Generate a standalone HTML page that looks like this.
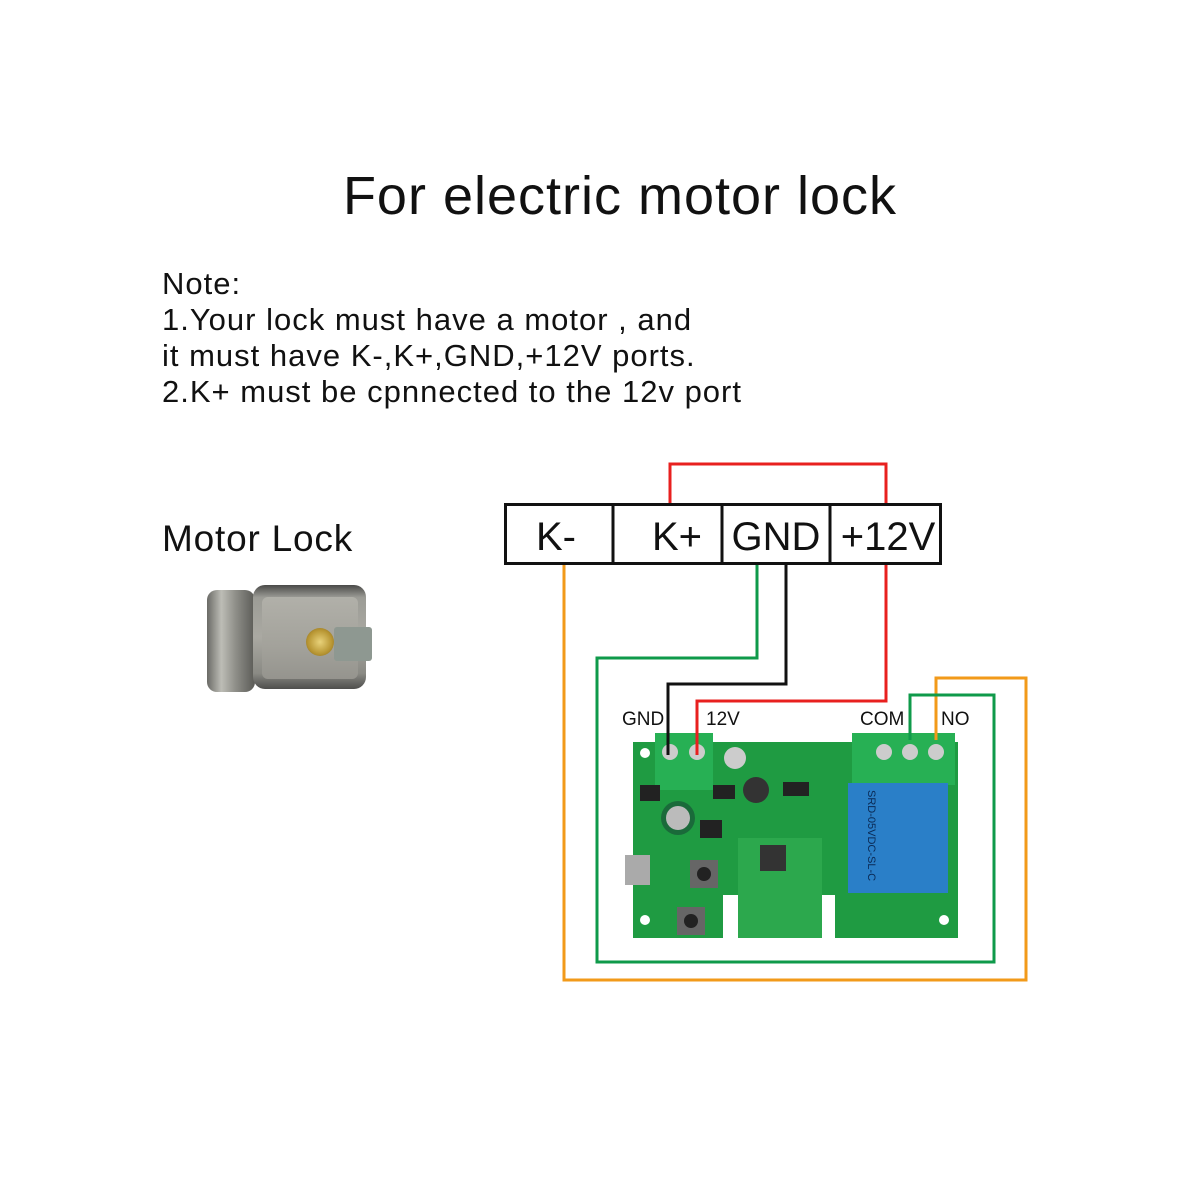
<!DOCTYPE html>
<html><head><meta charset="utf-8"><style>
html,body{margin:0;padding:0;background:#fff;}
body{width:1200px;height:1200px;position:relative;overflow:hidden;font-family:"Liberation Sans","DejaVu Sans",sans-serif;color:#111;}
.abs{position:absolute;}
.title{left:0;width:1240px;top:166px;text-align:center;font-size:54px;line-height:60px;letter-spacing:1px;}
.note{left:162px;top:266px;font-size:31px;line-height:36px;letter-spacing:1px;}
.ml{left:162px;top:518px;font-size:37px;line-height:42px;letter-spacing:0.8px;}
</style></head><body>
<div class="abs title">For electric motor lock</div>
<div class="abs note">Note:<br>1.Your lock must have a motor , and<br>it must have K-,K+,GND,+12V ports.<br>2.K+ must be cpnnected to the 12v port</div>
<div class="abs ml">Motor Lock</div>

<!-- lock -->
<div class="abs" style="left:207px;top:590px;width:48px;height:102px;border-radius:10px;background:linear-gradient(90deg,#6a6a66,#bdbdb6 30%,#8e8e88 60%,#5a5a56);"></div>
<div class="abs" style="left:253px;top:585px;width:113px;height:104px;border-radius:12px;background:linear-gradient(180deg,#4a4a48,#9c9c96 12%,#aaa9a2 50%,#8a8a84 85%,#4e4e4c);"></div>
<div class="abs" style="left:262px;top:597px;width:96px;height:82px;border-radius:6px;background:linear-gradient(180deg,#b1b0a9,#a3a29b 60%,#95948e);"></div>
<div class="abs" style="left:334px;top:627px;width:38px;height:34px;border-radius:3px;background:#8e9891;"></div>
<div class="abs" style="left:306px;top:628px;width:28px;height:28px;border-radius:50%;background:radial-gradient(circle,#e8d27a,#b89633 60%,#7d6220);"></div>

<svg class="abs" style="left:0;top:0" width="1200" height="1200">
<rect x="633" y="742" width="325" height="196" fill="#1f9b42"/>
<rect x="723" y="895" width="112" height="43" fill="#fff"/>
<rect x="738" y="838" width="84" height="100" fill="#2ca84d"/>
<rect x="655" y="733" width="58" height="57" fill="#27b054"/>
<circle cx="670" cy="752" r="8" fill="#ccc"/><circle cx="697" cy="752" r="8" fill="#ccc"/>
<rect x="852" y="733" width="103" height="52" fill="#27b054"/>
<circle cx="884" cy="752" r="8" fill="#ccc"/><circle cx="910" cy="752" r="8" fill="#ccc"/><circle cx="936" cy="752" r="8" fill="#ccc"/>
<rect x="848" y="783" width="100" height="110" fill="#2a7fc8"/>
<text x="0" y="0" transform="translate(868,790) rotate(90)" font-size="11" fill="#0a2a55" font-family="Liberation Sans">SRD-05VDC-SL-C</text>
<circle cx="678" cy="818" r="17" fill="#1a6a3a"/><circle cx="678" cy="818" r="12" fill="#bbb"/>
<circle cx="735" cy="758" r="11" fill="#ccc"/>
<circle cx="756" cy="790" r="13" fill="#333"/>
<rect x="760" y="845" width="26" height="26" fill="#333"/>
<rect x="625" y="855" width="25" height="30" fill="#aaa"/>
<rect x="690" y="860" width="28" height="28" fill="#666"/><circle cx="704" cy="874" r="7" fill="#222"/>
<rect x="677" y="907" width="28" height="28" fill="#666"/><circle cx="691" cy="921" r="7" fill="#222"/>
<rect x="700" y="820" width="22" height="18" fill="#222"/>
<rect x="713" y="785" width="22" height="14" fill="#222"/>
<rect x="783" y="782" width="26" height="14" fill="#222"/>
<rect x="640" y="785" width="20" height="16" fill="#222"/>
<circle cx="645" cy="753" r="5" fill="#fff"/><circle cx="944" cy="920" r="5" fill="#fff"/><circle cx="645" cy="920" r="5" fill="#fff"/>

<g fill="none" stroke-width="3">
<polyline points="670,504 670,464 886,464 886,504" stroke="#e8201f"/>
<polyline points="564,563 564,980 1026,980 1026,678 936,678 936,740" stroke="#f29a1a"/>
<polyline points="757,563 757,658 597,658 597,962 994,962 994,695 910,695 910,740" stroke="#0f9a4a"/>
<polyline points="786,563 786,684 668,684 668,755" stroke="#111"/>
<polyline points="886,563 886,701 697,701 697,755" stroke="#e8201f"/>
</g>
<rect x="505.5" y="504.5" width="435" height="59" fill="#fff" stroke="#111" stroke-width="3"/>
<g stroke="#111" stroke-width="3"><line x1="613" y1="504" x2="613" y2="563"/><line x1="722" y1="504" x2="722" y2="563"/><line x1="830" y1="504" x2="830" y2="563"/></g>
<g font-family="Liberation Sans" font-size="40" fill="#111" text-anchor="middle">
<text x="556" y="550">K-</text><text x="677" y="550">K+</text><text x="776" y="550">GND</text><text x="888" y="550">+12V</text>
</g>
<g font-family="Liberation Sans" font-size="19" fill="#111">
<text x="622" y="725">GND</text><text x="706" y="725">12V</text><text x="860" y="725">COM</text><text x="941" y="725">NO</text>
</g>
</svg>
</body></html>
